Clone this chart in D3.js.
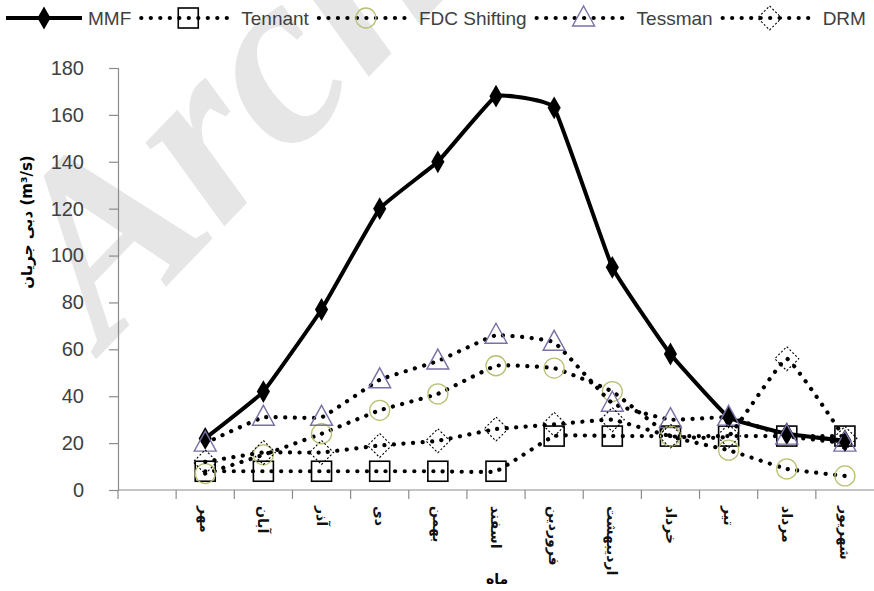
<!DOCTYPE html>
<meta charset="utf-8">
<style>

body {
  margin: 0;
  background: #fff;
}

text {
  font-family: "Liberation Sans", Arial, sans-serif;
}

.fa {
  font-family: "DejaVu Sans", sans-serif;
  font-weight: bold;
}

</style>
<body>
<script src="https://cdnjs.cloudflare.com/ajax/libs/d3/7.8.5/d3.min.js"></script>
<script>

var months = ["مهر", "آبان", "آذر", "دی", "بهمن", "اسفند", "فروردین", "اردیبهشت", "خرداد", "تیر", "مرداد", "شهریور"];

var mmf     = [22, 42, 77, 120, 140, 168, 163, 95, 58, 31, 24, 21],
    tennant = [8, 8, 8, 8, 8, 8, 23, 23, 23, 23, 23, 23],
    fdc     = [7, 15, 24, 34, 41, 53, 52, 42, 23, 17, 9, 6],
    tessman = [20, 31, 31, 47, 55, 66, 63, 37, 30, 31, 23, 20],
    drm     = [12, 16, 16, 19, 21, 26, 28, 30, 23, 23, 56, 22];

var yTicks = [0, 20, 40, 60, 80, 100, 120, 140, 160, 180];

var width = 874,
    height = 591,
    left = 118,
    bw = (width - left) / 13;

var svg = d3.select("body").append("svg")
    .attr("width", width)
    .attr("height", height);

// watermark behind everything
svg.append("text")
    .attr("transform", "translate(105,350) rotate(-46)")
    .style("font-family", "'Liberation Serif', serif")
    .style("font-weight", "bold")
    .style("font-style", "italic")
    .style("font-size", "250px")
    .style("fill", "#e6e6e6")
    .text("Arch");

var x = d3.scaleBand()
    .domain(months)
    .range([left + bw, width]);

var y = d3.scaleLinear()
    .domain([0, 180])
    .range([490, 68]);

// y axis
var yAxis = svg.append("g")
    .attr("transform", "translate(" + left + ",0)")
    .call(d3.axisLeft(y).tickValues(yTicks).tickSize(9).tickPadding(25));

yAxis.select(".domain").attr("stroke", "#8c8c8c").attr("stroke-width", 1.2);
yAxis.selectAll(".tick line").attr("stroke", "#8c8c8c").attr("stroke-width", 1.2);
yAxis.selectAll(".tick text")
    .style("font-size", "20px")
    .style("font-family", "'Liberation Sans', Arial, sans-serif")
    .attr("fill", "#404040");

// x axis line and boundary ticks
svg.append("line")
    .attr("x1", left).attr("x2", width)
    .attr("y1", y(0)).attr("y2", y(0))
    .attr("stroke", "#8c8c8c").attr("stroke-width", 1.2);

svg.selectAll(".xtick")
    .data(d3.range(13))
    .enter().append("line")
    .attr("x1", function(i) { return left + i * bw; })
    .attr("x2", function(i) { return left + i * bw; })
    .attr("y1", y(0)).attr("y2", y(0) + 9)
    .attr("stroke", "#8c8c8c").attr("stroke-width", 1.2);

svg.selectAll(".month")
    .data(months)
    .enter().append("text")
    .attr("class", "fa")
    .attr("transform", function(d) {
      return "translate(" + (x(d) + x.bandwidth() / 2) + "," + 506 + ") rotate(90)";
    })
    .attr("dy", "0.35em")
    .style("font-size", "14px")
    .attr("fill", "#111")
    .text(function(d) { return d; });

svg.append("text")
    .attr("class", "fa")
    .attr("x", 497)
    .attr("y", 584)
    .attr("text-anchor", "middle")
    .style("font-size", "14px")
    .text("ماه");

svg.append("text")
    .attr("class", "fa")
    .attr("transform", "translate(27,222) rotate(-90)")
    .attr("text-anchor", "middle")
    .attr("dy", "0.35em")
    .style("font-size", "15px")
    .text("دبی جریان  (m³/s)");

// series
var series = [
  {name: "MMF", values: mmf, solid: true, marker: "diamond", color: "#000"},
  {name: "Tennant", values: tennant, marker: "square", color: "#000"},
  {name: "FDC Shifting", values: fdc, marker: "circle", color: "#b9bf72"},
  {name: "Tessman", values: tessman, marker: "triangle", color: "#7a70a6"},
  {name: "DRM", values: drm, marker: "diamondOpen", color: "#000"}
];

var line = d3.line()
    .x(function(d, i) { return x(months[i]) + x.bandwidth() / 2; })
    .y(function(d) { return y(d); })
    .curve(d3.curveCardinal.tension(0.72));

function styleLine(sel, s) {
  if (s.solid) {
    sel.attr("stroke", "#000").attr("stroke-width", 4).attr("fill", "none");
  } else {
    sel.attr("stroke", "#000").attr("stroke-width", 4.2)
      .attr("stroke-linecap", "round")
      .attr("stroke-dasharray", "0.1 9.4")
      .attr("fill", "none");
  }
}

function drawMarker(g, s, cx, cy) {
  if (s.marker === "diamond") {
    g.append("path")
        .attr("d", d3.symbol(d3.symbolDiamond, 150)())
        .attr("transform", "translate(" + cx + "," + cy + ")")
        .attr("fill", "#000");
  } else if (s.marker === "square") {
    g.append("rect")
        .attr("x", cx - 10).attr("y", cy - 10)
        .attr("width", 20).attr("height", 20)
        .attr("fill", "none").attr("stroke", s.color).attr("stroke-width", 1.6);
  } else if (s.marker === "circle") {
    g.append("circle")
        .attr("cx", cx).attr("cy", cy).attr("r", 10)
        .attr("fill", "none").attr("stroke", s.color).attr("stroke-width", 1.3);
  } else if (s.marker === "triangle") {
    g.append("path")
        .attr("d", "M0,-12L11,8L-11,8Z")
        .attr("transform", "translate(" + cx + "," + cy + ")")
        .attr("fill", "none").attr("stroke", s.color).attr("stroke-width", 1.4);
  } else {
    g.append("path")
        .attr("d", "M0,-12L12,0L0,12L-12,0Z")
        .attr("transform", "translate(" + cx + "," + cy + ")")
        .attr("fill", "none").attr("stroke", "#000").attr("stroke-width", 1.1)
        .attr("stroke-dasharray", "2 2");
  }
}

series.forEach(function(s) {
  var g = svg.append("g");
  g.append("path").datum(s.values).attr("d", line).call(styleLine, s);
  s.values.forEach(function(v, i) {
    drawMarker(g, s, x(months[i]) + x.bandwidth() / 2, y(v));
  });
});

// legend: laid out one item after another
var ly = 18,
    lx = 6;

series.forEach(function(s, i) {
  var g = svg.append("g");
  var w = s.solid ? 76 : 94,
      x0 = i === 0 ? lx : lx + 4;
  g.append("path")
      .attr("d", "M" + x0 + "," + ly + "H" + (x0 + w))
      .call(styleLine, s);
  drawMarker(g, s, x0 + w / 2, ly);
  var t = g.append("text")
      .attr("x", x0 + w + 6)
      .attr("y", ly)
      .attr("dy", "0.35em")
      .style("font-size", "19px")
      .attr("fill", "#404040")
      .text(s.name);
  lx = x0 + w + 6 + t.node().getComputedTextLength() + 6;
});

</script>
